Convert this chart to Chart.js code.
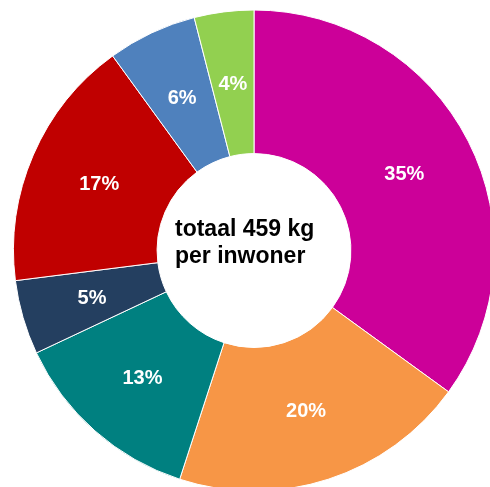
<!DOCTYPE html>
<html>
<head>
<meta charset="utf-8">
<script src="https://cdn.jsdelivr.net/npm/chart.js@4"></script>
<style>
  html, body { margin: 0; padding: 0; background: #fff; overflow: hidden; width: 490px; height: 487px; }
  canvas { display: block; }
</style>
</head>
<body>
<canvas id="afvalChart" width="508" height="492"></canvas>
<script>
const categories = ['categorie 1', 'categorie 2', 'categorie 3', 'categorie 4', 'categorie 5', 'categorie 6', 'categorie 7'];
const percentages = [35, 20, 13, 5, 17, 6, 4];
const sliceColors = ['#CC0099', '#F79646', '#008080', '#243F60', '#C00000', '#4F81BD', '#92D050'];
const centerLines = ['totaal 459 kg', 'per inwoner'];

// white percentage labels in the middle of each slice
const sliceLabels = {
    id: 'sliceLabels',
    afterDatasetsDraw(chart) {
        const ctx = chart.ctx;
        const meta = chart.getDatasetMeta(0);
        ctx.save();
        ctx.fillStyle = '#fff';
        ctx.font = 'bold 20px "Liberation Sans", Arial, sans-serif';
        ctx.textAlign = 'center';
        ctx.textBaseline = 'middle';
        meta.data.forEach((arc, i) => {
            const p = arc.tooltipPosition();
            ctx.fillText(percentages[i] + '%', p.x, p.y + 1);
        });
        ctx.restore();
    }
};

// text in the hole
const centerText = {
    id: 'centerText',
    afterDraw(chart) {
        const ctx = chart.ctx;
        const arc = chart.getDatasetMeta(0).data[0];
        ctx.save();
        ctx.fillStyle = '#000';
        ctx.font = 'bold 23px "Liberation Sans", Arial, sans-serif';
        ctx.textAlign = 'left';
        ctx.textBaseline = 'alphabetic';
        ctx.fillText(centerLines[0], arc.x - 79, arc.y - 15);
        ctx.fillText(centerLines[1], arc.x - 79, arc.y + 12);
        ctx.restore();
    }
};

var ctx = document.getElementById('afvalChart').getContext('2d');
var myChart = new Chart(ctx, {
    type: 'doughnut',
    data: {
        labels: categories,
        datasets: [{
            data: percentages,
            backgroundColor: sliceColors,
            borderColor: '#fff',
            borderWidth: 1
        }]
    },
    options: {
        responsive: false,
        animation: false,
        devicePixelRatio: 1,
        cutout: '40.3%',
        layout: {
            padding: { top: 9, bottom: 0, left: 13, right: 13 }
        },
        plugins: {
            legend: { display: false },
            tooltip: { enabled: false }
        }
    },
    plugins: [sliceLabels, centerText]
});
</script>
</body>
</html>
